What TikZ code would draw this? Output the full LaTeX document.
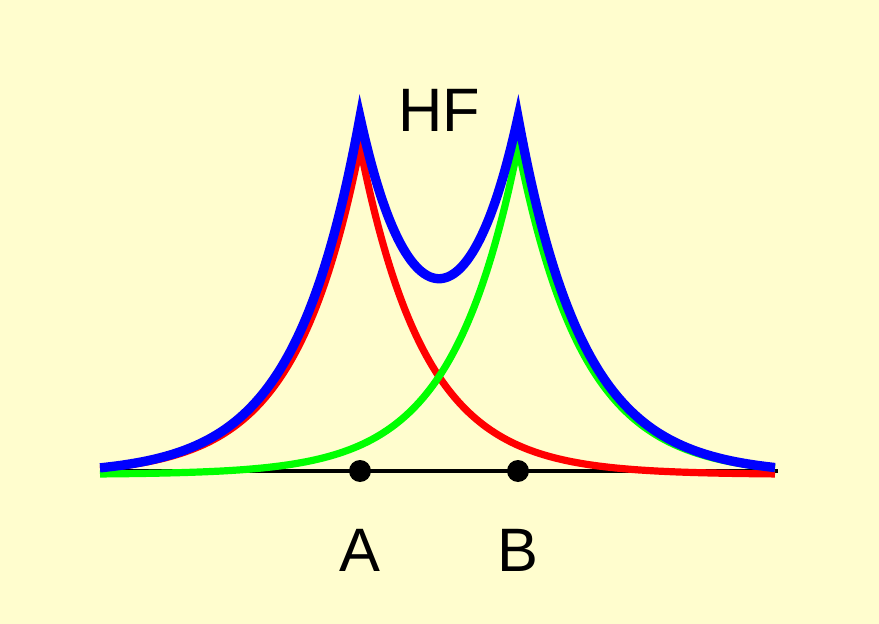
\documentclass[tikz,border=0pt]{standalone}
\usepackage{fontspec}
\setmainfont{Liberation Sans}
\definecolor{paper}{RGB}{255,253,206}
\begin{document}
\begin{tikzpicture}[x=.75pt,y=-.75pt,line cap=butt,
    font=\fontsize{46}{46}\selectfont,
    orbital/.style={line width=5.4pt},
    nucleus/.style={circle,fill=black,inner sep=0pt,minimum size=16.5pt},
    tag/.style={inner sep=0pt}]
  % Background fixes the page size.
  \fill[paper] (0,0) rectangle (879,624);
  \useasboundingbox (0,0) rectangle (879,624);
  % Internuclear axis.
  \coordinate (left) at (100,471);
  \coordinate (right) at (778,471);
  \draw[line width=3pt] (left) -- (right);
  % Atomic orbitals on A and B, and their sum.
  \draw[orbital,red] plot[domain=100:775,samples=676]
    (\x,{474.5-328*exp(-0.0153*abs(\x-360))});
  \draw[orbital,green] plot[domain=100:775,samples=676]
    (\x,{474.5-328*exp(-0.0153*abs(\x-518))});
  \draw[orbital,blue,line width=7pt] plot[domain=100:775,samples=676]
    (\x,{474.5-328*exp(-0.0153*abs(\x-360))-328*exp(-0.0153*abs(\x-518))});
  % Nuclei.
  \node[nucleus] (A) at (360,471) {};
  \node[nucleus] (B) at (518,471) {};
  \node[tag] (labA) at (360,550) {A};
  \node[tag] (labB) at (518,550) {B};
  \node[tag] (hf) at (439,110) {HF};
\end{tikzpicture}
\end{document}
